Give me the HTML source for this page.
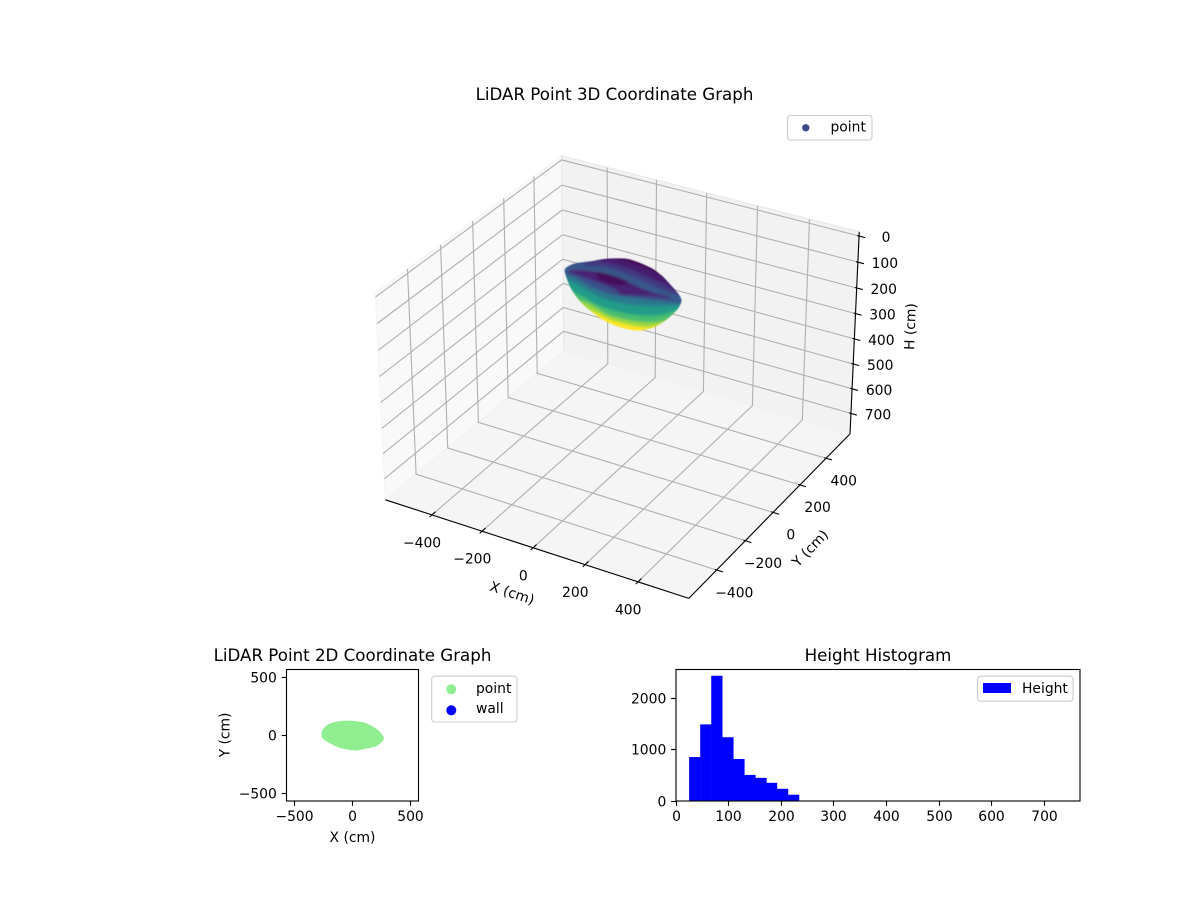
<!DOCTYPE html>
<html>
<head>
<meta charset="utf-8">
<title>LiDAR Point Graphs</title>
<style>
html,body{margin:0;padding:0;background:#fff;}
svg{display:block;font-family:"DejaVu Sans","Liberation Sans",sans-serif;fill:#000;}
text{font-size:13.89px;}
.title{font-size:16.67px;text-anchor:middle;}
</style>
</head>
<body>
<svg id="chart" xmlns="http://www.w3.org/2000/svg" width="1200" height="900" viewBox="0 0 1200 900">
  <defs>
    <filter id="soft" x="-10%" y="-10%" width="120%" height="120%"><feGaussianBlur stdDeviation="1.2"/></filter>
    <filter id="edge" x="-10%" y="-10%" width="120%" height="120%"><feGaussianBlur stdDeviation="0.5"/></filter>
    <clipPath id="cloudClip"><path id="cloudClipPath" d=""/></clipPath>
  </defs>
  <rect x="0" y="0" width="1200" height="900" fill="#fff"/>
  <g id="panes3d"></g>
  <g id="grid3d"></g>
  <g id="axes3d"></g>
  <g filter="url(#edge)">
    <g clip-path="url(#cloudClip)">
      <g id="cloud3d" filter="url(#soft)"></g>
    </g>
  </g>
  <text class="title" x="614.5" y="100">LiDAR Point 3D Coordinate Graph</text>
  <text text-anchor="middle" transform="translate(510.7,597.5) rotate(18.3)">X (cm)</text>
  <text text-anchor="middle" transform="translate(813.5,551.5) rotate(-46)">Y (cm)</text>
  <text text-anchor="middle" transform="translate(915,326.7) rotate(-88)">H (cm)</text>
  <g>
    <rect x="787.5" y="115.5" width="84.5" height="24.5" rx="3" fill="#fff" fill-opacity="0.8" stroke="#ccc" stroke-width="1.1"/>
    <circle cx="805.8" cy="127.8" r="3.7" fill="#3e4989"/>
    <text x="830.5" y="131.7">point</text>
  </g>

  <g id="axes2d"></g>
  <text class="title" x="352.5" y="661">LiDAR Point 2D Coordinate Graph</text>
  <text x="352.5" y="842" text-anchor="middle">X (cm)</text>
  <text text-anchor="middle" transform="translate(229.5,735) rotate(-90)">Y (cm)</text>
  <g>
    <rect x="431.7" y="676.2" width="85.3" height="45.8" rx="3" fill="#fff" fill-opacity="0.8" stroke="#ccc" stroke-width="1.1"/>
    <circle cx="451.3" cy="689.3" r="5" fill="#90ee90"/>
    <text x="476" y="693">point</text>
    <circle cx="451.3" cy="710.3" r="5" fill="#0000ff"/>
    <text x="476" y="713">wall</text>
  </g>

  <g id="axesHist"></g>
  <text class="title" x="878" y="661">Height Histogram</text>
  <g>
    <rect x="977.5" y="676.2" width="95.5" height="25" rx="3" fill="#fff" fill-opacity="0.8" stroke="#ccc" stroke-width="1.1"/>
    <rect x="983" y="683" width="28" height="10" fill="#0000ff"/>
    <text x="1022" y="693">Height</text>
  </g>
</svg>
<script>
/* ---------- 3D axis ticks ---------- */
var xTicks3d = [-400, -200, 0, 200, 400];
var yTicks3d = [-400, -200, 0, 200, 400];
var hTicks3d = [0, 100, 200, 300, 400, 500, 600, 700];
var xyLimit3d = 588.5;
var hTop3d = -16;
var hFloor3d = 784;

/* ---------- 3D point cloud: iso-height rings of the scan, back surface first ---------- */
var ringH = [95, 80, 60, 42, 30, 235, 203, 172, 140, 109, 77, 46, 30];
var ringX = [
  [-249,-243,-203,-163,-105,-51,11,69,127,175,206,102,30,-32,-95,-161,-222],
  [-226,-158,-81,1,88,203,140,24,-92,-190,-230],
  [-175,-111,-45,42,119,206,158,42,-74,-149],
  [-138,-80,-8,68,143,200,115,57,-5,-59,-117],
  [-79,-18,51,118,144,68,6,-48],
  [-156,-71,3,63,101,122,120,-207],
  [-179,-98,-22,53,103,126,148,146,-228],
  [-201,-120,-38,41,98,145,173,166,-253],
  [-225,-137,-57,24,94,151,194,190,-263],
  [-236,-158,-75,2,67,129,217,212,-260],
  [-232,-164,-97,-5,37,105,239,117,-16,-146],
  [-180,-119,-53,11,73,144,202,111,55,15,-93,-149],
  [-79,-39,25,48,27,-31]
];
var ringY = [
  [43,91,134,178,212,209,193,161,116,79,44,36,47,64,71,62,32],
  [26,57,70,52,37,31,94,170,190,112,68],
  [41,65,64,49,29,19,64,140,160,109],
  [66,68,68,49,32,13,81,113,130,133,99],
  [89,85,78,54,43,95,112,115],
  [27,-3,-18,-9,38,117,155,58],
  [10,-2,-20,-16,0,39,107,132,49],
  [3,-8,-39,-40,-26,6,86,121,54],
  [6,-25,-51,-55,-40,-5,73,91,49],
  [3,-12,-43,-51,-39,-11,45,57,36],
  [-12,-23,-49,-62,-55,-37,9,9,37,35],
  [-42,-12,-2,-10,-27,-38,-36,-70,-97,-73,-57,-50],
  [-36,-26,-34,-47,-72,-74]
];
/* silhouette of the whole cloud, read at one reference height */
var outlineH = 130;
var outlineX = [-280,-273,-233,-194,-135,-81,-19,39,97,145,175,191,195,185,147,87,13,-60,-121,-185,-240];
var outlineY = [95,143,187,231,265,262,245,213,169,131,96,40,-36,-107,-155,-164,-149,-113,-75,-20,40];
var hMin = 25;
var hMax = 235;

/* ---------- 2D plot: outline of the scanned footprint ---------- */
var footprintX = [-262,-253,-208,-136,-51,92,192,235,263,254,206,92,21,-108,-208,-251];
var footprintY = [8,45,88,113,122,107,59,22,-18,-47,-87,-116,-127,-104,-56,-27];
var xTicks2d = [-500, 0, 500];
var yTicks2d = [-500, 0, 500];
var limit2d = 565;

/* ---------- Histogram ---------- */
var histEdges = [25,46,67,88,109,130,151,172,192,213,234];
var histCounts = [860,1500,2452,1249,822,511,453,356,239,123];
var histXTicks = [0,100,200,300,400,500,600,700];
var histYTicks = [0,1000,2000];
var histXMax = 768;
var histYMax = 2575;

var viridisStops = ['#440154','#482878','#3e4989','#31688e','#26828e','#1f9e89','#35b779','#6ece58','#b5de2b','#fde725'];

var NS = 'http://www.w3.org/2000/svg';
function mk(parent, tag, attrs, txt){
  var el = document.createElementNS(NS, tag);
  for (var k in attrs) el.setAttribute(k, attrs[k]);
  if (txt !== undefined) el.textContent = txt;
  parent.appendChild(el);
  return el;
}
function fmt(v){ return (v < 0 ? '\u2212' + (-v) : '' + v); }
function snap(v){ return Math.round(v - 0.5) + 0.5; }
function hexToRgb(h){ return [parseInt(h.substr(1,2),16),parseInt(h.substr(3,2),16),parseInt(h.substr(5,2),16)]; }
function viridis(t){
  t = Math.max(0, Math.min(1, t));
  var p = t * (viridisStops.length - 1), i = Math.min(Math.floor(p), viridisStops.length - 2), f = p - i;
  var a = hexToRgb(viridisStops[i]), b = hexToRgb(viridisStops[i + 1]);
  return 'rgb(' + Math.round(a[0]+(b[0]-a[0])*f) + ',' + Math.round(a[1]+(b[1]-a[1])*f) + ',' + Math.round(a[2]+(b[2]-a[2])*f) + ')';
}

/* ---------- 3D projection (elev 30, azim -60, dist 10) ---------- */
var halfXY = 0.595, halfH = 0.405, camDist = 10, camScale = 2915, camX = 622, camY = 366;
function project(x, y, h){
  var wx = x / xyLimit3d * halfXY;
  var wy = y / xyLimit3d * halfXY;
  var mid = (hTop3d + hFloor3d) / 2;
  var wz = (mid - h) / ((hFloor3d - hTop3d) / 2) * halfH;
  var xv = 0.866 * wx + 0.5 * wy;
  var yv = -0.25 * wx + 0.433 * wy + 0.866 * wz;
  var zv = 0.433 * wx - 0.75 * wy + 0.5 * wz;
  var w = camDist - zv;
  return [camX + camScale * xv / w, camY - camScale * yv / w];
}
function polyPoints(list){
  return list.map(function(p){ return p[0].toFixed(1) + ',' + p[1].toFixed(1); }).join(' ');
}
/* closed smooth outline through every vertex */
function smoothClosed(pts){
  var n = pts.length, k = 1 / 8;
  var d = 'M' + pts[0][0].toFixed(1) + ',' + pts[0][1].toFixed(1);
  for (var i = 0; i < n; i++){
    var p0 = pts[(i + n - 1) % n], p1 = pts[i], p2 = pts[(i + 1) % n], p3 = pts[(i + 2) % n];
    d += 'C' + (p1[0] + (p2[0] - p0[0]) * k).toFixed(1) + ',' + (p1[1] + (p2[1] - p0[1]) * k).toFixed(1) +
         ' ' + (p2[0] - (p3[0] - p1[0]) * k).toFixed(1) + ',' + (p2[1] - (p3[1] - p1[1]) * k).toFixed(1) +
         ' ' + p2[0].toFixed(1) + ',' + p2[1].toFixed(1);
  }
  return d + 'Z';
}
var L = xyLimit3d, T = hTop3d, F = hFloor3d;

var panes = document.getElementById('panes3d');
var leftPane = mk(panes, 'polygon', {points: polyPoints([project(-L,-L,F),project(-L,L,F),project(-L,L,T),project(-L,-L,T)]), fill:'#f9f9f9', stroke:'#f4f4f4', 'stroke-width':1.1});


var backPane = mk(panes, 'polygon', {points: polyPoints([project(-L,L,F),project(L,L,F),project(L,L,T),project(-L,L,T)]), fill:'#f2f2f2', stroke:'#e8e8e8', 'stroke-width':1.1});


var floorPane = mk(panes, 'polygon', {points: polyPoints([project(-L,-L,F),project(L,-L,F),project(L,L,F),project(-L,L,F)]), fill:'#f5f5f5', stroke:'#f1f1f1', 'stroke-width':1.1});



var grid = document.getElementById('grid3d');
var gridStyle = {fill:'none', stroke:'#b0b0b0', 'stroke-width':1.11};
function gridLine(pts){
  var a = {points: polyPoints(pts)};
  for (var k in gridStyle) a[k] = gridStyle[k];
  return mk(grid, 'polyline', a);
}
xTicks3d.forEach(function(v){
  var g = gridLine([project(v,-L,F),project(v,L,F),project(v,L,T)]);
  
  
});
yTicks3d.forEach(function(v){
  var g = gridLine([project(L,v,F),project(-L,v,F),project(-L,v,T)]);
  
  
});
hTicks3d.forEach(function(v){
  var g = gridLine([project(-L,-L,v),project(-L,L,v),project(L,L,v)]);
  
  
});

var ax3 = document.getElementById('axes3d');
function axisSeg(p, q){
  return mk(ax3, 'line', {x1:p[0], y1:p[1], x2:q[0], y2:q[1], stroke:'#000', 'stroke-width':1.11});
}
var xAxisLine = axisSeg(project(-L,-L,F), project(L,-L,F));


var yAxisLine = axisSeg(project(L,-L,F), project(L,L,F));


var hAxisLine = axisSeg(project(L,L,F), project(L,L,T));



xTicks3d.forEach(function(v){
  var t = axisSeg(project(v,-L-15,F), project(v,-L+22,F));
  
  
  var p = project(v,-L,F);
  var lab = mk(ax3, 'text', {x:p[0]-9.8, y:p[1]+32.5, 'text-anchor':'middle'}, fmt(v));
  
  
});
yTicks3d.forEach(function(v){
  var t = axisSeg(project(L-7,v,F), project(L+23,v,F));
  
  
  var p = project(L,v,F);
  var lab = mk(ax3, 'text', {x:p[0]+17.7, y:p[1]+27.3, 'text-anchor':'middle'}, fmt(v));
  
  
});
hTicks3d.forEach(function(v){
  var t = axisSeg(project(L-7,L,v), project(L+23,L,v));
  
  
  var p = project(L,L,v);
  var lab = mk(ax3, 'text', {x:p[0]+27, y:p[1]+6, 'text-anchor':'middle'}, fmt(v));
  
  
});

document.getElementById('cloudClipPath').setAttribute('d', smoothClosed(outlineX.map(function(x, j){ return project(x, outlineY[j], outlineH); })));

var cloud = document.getElementById('cloud3d');
ringH.forEach(function(h, i){
  var pts = ringX[i].map(function(x, j){ return project(x, ringY[i][j], h); });
  var col = viridis((h - hMin) / (hMax - hMin));
  var ring = mk(cloud, 'path', {d: smoothClosed(pts), fill: col, stroke: col, 'stroke-width': (i === 0 ? 6 : 1.2), 'stroke-linejoin':'round'});
  
  
});

/* ---------- 2D axes ---------- */
var box2d = {l:286.5, r:418.5, t:669.5, b:801};
function x2d(v){ return (box2d.l + box2d.r)/2 + v * (box2d.r - box2d.l) / (2*limit2d); }
function y2d(v){ return (box2d.t + box2d.b)/2 - v * (box2d.b - box2d.t) / (2*limit2d); }
var a2 = document.getElementById('axes2d');
var bg2 = mk(a2, 'rect', {x:box2d.l, y:box2d.t, width:box2d.r-box2d.l, height:box2d.b-box2d.t, fill:'#fff'});


var fp = mk(a2, 'path', {d: smoothClosed(footprintX.map(function(x,i){ return [x2d(x), y2d(footprintY[i])]; })), fill:'#90ee90', stroke:'#90ee90', 'stroke-width':1, 'stroke-linejoin':'round'});


var fr2 = mk(a2, 'rect', {x:box2d.l, y:box2d.t, width:box2d.r-box2d.l, height:box2d.b-box2d.t, fill:'none', stroke:'#000', 'stroke-width':1.11});


xTicks2d.forEach(function(v){
  var x = snap(x2d(v));
  var t = mk(a2, 'line', {x1:x, x2:x, y1:box2d.b, y2:box2d.b+4.86, stroke:'#000', 'stroke-width':1.11});
  
  
  var lab = mk(a2, 'text', {x:x, y:821, 'text-anchor':'middle'}, fmt(v));
  
  
});
yTicks2d.forEach(function(v){
  var y = snap(y2d(v));
  var t = mk(a2, 'line', {x1:box2d.l-4.86, x2:box2d.l, y1:y, y2:y, stroke:'#000', 'stroke-width':1.11});
  
  
  var lab = mk(a2, 'text', {x:box2d.l-9.7, y:y+5, 'text-anchor':'end'}, fmt(v));
  
  
});

/* ---------- Histogram axes ---------- */
var boxH = {l:676, r:1080, t:669.5, b:801};
function xH(v){ return boxH.l + v * (boxH.r - boxH.l) / histXMax; }
function yH(v){ return boxH.b - v * (boxH.b - boxH.t) / histYMax; }
var aH = document.getElementById('axesHist');
var bgH = mk(aH, 'rect', {x:boxH.l, y:boxH.t, width:boxH.r-boxH.l, height:boxH.b-boxH.t, fill:'#fff'});


histCounts.forEach(function(c, i){
  var bar = mk(aH, 'rect', {x:xH(histEdges[i]), y:yH(c), width:xH(histEdges[i+1])-xH(histEdges[i])+0.2, height:boxH.b-yH(c), fill:'#0000ff'});
  
  
});
var frH = mk(aH, 'rect', {x:boxH.l, y:boxH.t, width:boxH.r-boxH.l, height:boxH.b-boxH.t, fill:'none', stroke:'#000', 'stroke-width':1.11});


histXTicks.forEach(function(v){
  var x = snap(xH(v));
  var t = mk(aH, 'line', {x1:x, x2:x, y1:boxH.b, y2:boxH.b+4.86, stroke:'#000', 'stroke-width':1.11});
  
  
  var lab = mk(aH, 'text', {x:x, y:821, 'text-anchor':'middle'}, fmt(v));
  
  
});
histYTicks.forEach(function(v){
  var y = snap(yH(v));
  var t = mk(aH, 'line', {x1:boxH.l-4.86, x2:boxH.l, y1:y, y2:y, stroke:'#000', 'stroke-width':1.11});
  
  
  var lab = mk(aH, 'text', {x:boxH.l-9.7, y:y+5, 'text-anchor':'end'}, fmt(v));
  
  
});
</script>
</body>
</html>
